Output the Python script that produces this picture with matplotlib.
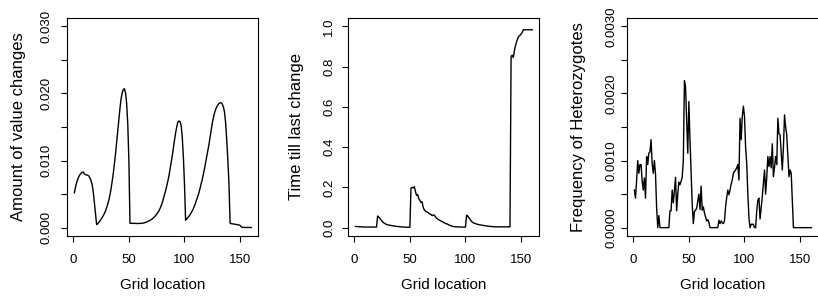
import numpy as np
import matplotlib
matplotlib.use("Agg")
import matplotlib.pyplot as plt

plt.rcParams['font.family'] = ['Liberation Sans', 'DejaVu Sans']

grid_location = np.arange(1, 161)

# Amount of value changes (x 1e-3)
value_changes = [
    5.2, 6.0, 6.7, 7.2, 7.6, 7.9, 8.1, 8.25, 8.3, 8.0,
    7.9, 7.85, 7.8, 7.7, 7.4, 7.0, 6.4, 5.3, 3.7, 2.0,
    0.45, 0.6, 0.8, 1.0, 1.25, 1.5, 1.8, 2.1, 2.5, 3.0,
    3.5, 4.1, 4.9, 5.8, 6.9, 8.1, 9.5, 11.0, 12.7, 14.4,
    16.2, 17.8, 19.2, 20.1, 20.6, 20.7, 20.1, 18.5, 15.5, 10.0,
    0.65, 0.65, 0.64, 0.64, 0.63, 0.63, 0.62, 0.62, 0.62, 0.63,
    0.64, 0.66, 0.68, 0.72, 0.78, 0.85, 0.92, 1.0, 1.1, 1.2,
    1.3, 1.45, 1.6, 1.8, 2.0, 2.25, 2.5, 2.85, 3.25, 3.7,
    4.3, 4.9, 5.5, 6.2, 6.9, 7.7, 8.7, 9.7, 10.7, 11.9,
    13.0, 14.1, 15.0, 15.7, 15.9, 15.8, 15.2, 13.5, 10.5, 6.5,
    1.1, 1.3, 1.5, 1.7, 1.95, 2.2, 2.5, 2.85, 3.25, 3.7,
    4.2, 4.7, 5.2, 5.85, 6.5, 7.2, 8.0, 8.8, 9.7, 10.6,
    11.5, 12.4, 13.5, 14.6, 15.6, 16.4, 17.1, 17.6, 18.0, 18.3,
    18.5, 18.6, 18.6, 18.4, 18.0, 17.2, 15.6, 13.0, 10.0, 6.5,
    0.64, 0.6, 0.58, 0.55, 0.52, 0.5, 0.47, 0.44, 0.4, 0.33,
    0.12, 0.04, 0.03, 0.03, 0.03, 0.03, 0.03, 0.03, 0.03, 0.03,
]

# Time till last change
time_last_change = [
    0.006, 0.006, 0.005, 0.005, 0.004, 0.004, 0.004, 0.003, 0.003, 0.003,
    0.003, 0.003, 0.003, 0.003, 0.003, 0.003, 0.003, 0.003, 0.003, 0.003,
    0.058, 0.053, 0.046, 0.039, 0.032, 0.026, 0.022, 0.019, 0.016, 0.014,
    0.013, 0.012, 0.011, 0.010, 0.009, 0.008, 0.007, 0.006, 0.006, 0.005,
    0.005, 0.004, 0.004, 0.003, 0.003, 0.002, 0.002, 0.002, 0.002, 0.002,
    0.196, 0.200, 0.197, 0.204, 0.180, 0.160, 0.165, 0.145, 0.135, 0.125,
    0.128, 0.100, 0.088, 0.082, 0.079, 0.076, 0.072, 0.068, 0.065, 0.060,
    0.063, 0.062, 0.054, 0.047, 0.043, 0.039, 0.036, 0.033, 0.030, 0.027,
    0.024, 0.021, 0.019, 0.017, 0.014, 0.011, 0.009, 0.007, 0.006, 0.005,
    0.004, 0.004, 0.004, 0.004, 0.003, 0.003, 0.003, 0.003, 0.003, 0.003,
    0.062, 0.058, 0.050, 0.042, 0.034, 0.028, 0.024, 0.022, 0.020, 0.018,
    0.016, 0.015, 0.014, 0.013, 0.012, 0.011, 0.010, 0.009, 0.008, 0.008,
    0.007, 0.006, 0.006, 0.005, 0.005, 0.004, 0.004, 0.004, 0.004, 0.004,
    0.004, 0.004, 0.004, 0.004, 0.004, 0.004, 0.004, 0.004, 0.004, 0.004,
    0.851, 0.857, 0.845, 0.880, 0.905, 0.925, 0.940, 0.952, 0.955, 0.962,
    0.970, 0.983, 0.983, 0.983, 0.983, 0.983, 0.983, 0.983, 0.983, 0.983,
]

# Frequency of heterozygotes (x 1e-4)
heterozygotes = [
    5.6, 4.4, 7.0, 10.0, 8.1, 9.4, 9.4, 7.0, 5.6, 7.4,
    4.4, 10.6, 9.4, 11.1, 11.3, 13.1, 9.5, 8.1, 10.0, 8.0,
    3.0, 0.0, 1.8, 0.0, 0.0, 0.0, 0.0, 0.0, 0.0, 0.0,
    0.0, 0.0, 2.5, 2.5, 5.6, 3.7, 5.5, 7.5, 2.5, 5.0,
    6.8, 6.4, 6.9, 7.5, 10.0, 21.9, 21.0, 16.0, 11.1, 18.8,
    13.0, 8.1, 3.5, 0.6, 2.4, 2.6, 2.9, 4.0, 5.0, 2.7,
    6.2, 2.6, 3.1, 2.2, 1.6, 1.0, 1.2, 0.8, 0.0, 0.0,
    0.0, 0.0, 0.0, 0.0, 0.0, 0.0, 1.1, 0.6, 1.0, 0.7,
    0.6, 1.0, 3.1, 4.5, 5.6, 4.9, 5.6, 6.5, 7.1, 8.1,
    8.4, 8.6, 8.9, 9.4, 7.1, 16.3, 13.1, 16.5, 18.1, 16.6,
    12.0, 9.6, 5.1, 1.5, 0.0, 0.5, 0.5, 0.5, 0.0, 0.0,
    2.5, 4.1, 4.4, 1.3, 3.0, 4.6, 6.6, 8.6, 5.0, 7.5,
    10.6, 9.1, 10.6, 8.9, 12.5, 7.6, 9.0, 10.6, 9.4, 16.3,
    14.0, 13.8, 11.3, 8.6, 12.0, 16.8, 15.0, 13.8, 10.6, 7.6,
    8.6, 8.1, 4.0, 0.0, 0.0, 0.0, 0.0, 0.0, 0.0, 0.0,
    0.0, 0.0, 0.0, 0.0, 0.0, 0.0, 0.0, 0.0, 0.0, 0.0,
]

x_ticks = [0, 50, 100, 150]
x_tick_labels = ["0", "50", "100", "150"]

y1_ticks = [0.0, 0.005, 0.010, 0.015, 0.020, 0.025, 0.030]
y1_labels = ["0.000", "", "0.010", "", "0.020", "", "0.030"]
y2_ticks = [0.0, 0.2, 0.4, 0.6, 0.8, 1.0]
y2_labels = ["0.0", "0.2", "0.4", "0.6", "0.8", "1.0"]
y3_ticks = [0.0, 0.0005, 0.0010, 0.0015, 0.0020, 0.0025, 0.0030]
y3_labels = ["0.0000", "", "0.0010", "", "0.0020", "", "0.0030"]

ylabels = ["Amount of value changes", "Time till last change", "Frequency of Heterozygotes"]
xlabel = "Grid location"

W, H = 818, 306
fig = plt.figure(figsize=(W / 100, H / 100), dpi=100)

panels = [
    dict(left=67.3, w=191.0, y=np.array(value_changes) * 1e-3, yt=y1_ticks, yl=y1_labels,
         ymax=0.03, ypad=6.5, ylab_off=49),
    dict(left=348.3, w=191.0, y=np.array(time_last_change), yt=y2_ticks, yl=y2_labels,
         ymax=1.0, ypad=5.0, ylab_off=51.6),
    dict(left=627.3, w=191.0, y=np.array(heterozygotes) * 1e-4, yt=y3_ticks, yl=y3_labels,
         ymax=0.003, ypad=3.0, ylab_off=49),
]

box_top, box_bot = 18.3, 235.7

for k, (p, lab) in enumerate(zip(panels, ylabels)):
    ax = fig.add_axes([p['left'] / W, 1 - box_bot / H, p['w'] / W, (box_bot - box_top) / H])
    ax.plot(grid_location, p['y'], color='black', linewidth=1.0)
    ext = 0.04 * 159
    ax.set_xlim(1 - ext, 160 + ext)
    ax.set_ylim(-0.04 * p['ymax'], 1.04 * p['ymax'])
    ax.set_xticks(x_ticks)
    ax.set_xticklabels(x_tick_labels)
    ax.set_yticks(p['yt'])
    ax.set_yticklabels(p['yl'], rotation=90, va='center')
    ax.tick_params(axis='x', direction='out', length=4.3, width=0.8, pad=9.0,
                   labelsize=9.5, colors='black')
    ax.tick_params(axis='y', direction='out', length=4.3, width=0.8, pad=p['ypad'],
                   labelsize=9.5, colors='black')
    for s in ax.spines.values():
        s.set_linewidth(0.8)
        s.set_color('black')
    if k == 2:
        # the reference image is cropped exactly at this panel's right border
        ax.spines['right'].set_visible(False)
    ax.set_xlabel(xlabel, fontsize=11)
    ax.xaxis.label.set_va('center')
    ax.xaxis.set_label_coords(0.5, -(285 - box_bot) / (box_bot - box_top))
    ax.set_ylabel(lab, fontsize=12)
    ax.yaxis.label.set_va('center')
    ax.yaxis.set_label_coords(-p['ylab_off'] / p['w'], 0.5)

fig.savefig("out.png", dpi=100)
